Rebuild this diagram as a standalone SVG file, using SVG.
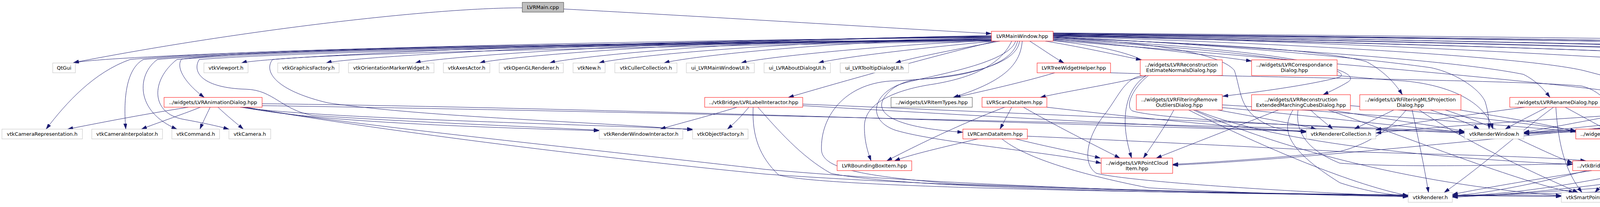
<svg xmlns="http://www.w3.org/2000/svg" width="5860" height="529" viewBox="0 0 5860 529">
<style>
.bg{fill:#fff}
.n rect{fill:#fff;stroke-width:1}
.g rect{stroke:#bfbfbf}
.r rect{stroke:#ff0000}
.k rect{stroke:#404040}
.m rect{fill:#bfbfbf;stroke:#404040}
.n text{font-family:"DejaVu Sans",Verdana,sans-serif;font-size:12.9px;text-anchor:middle;fill:#000}
.e path{fill:none;stroke:#191970;stroke-width:1;marker-end:url(#a)}
</style>
<defs>
<marker id="a" viewBox="0 0 14 9" refX="14" refY="4.5" markerWidth="14" markerHeight="9" markerUnits="userSpaceOnUse" orient="auto"><path d="M0,0L14,4.5L0,9z" fill="#191970" stroke="#191970" stroke-width="0.5"/></marker>
</defs>
<rect class="bg" x="0" y="0" width="5860" height="529"/>
<g id="edges" class="e">
<path d="M1443,23 C1800,42 2250,70 2538,86"/>
<path d="M1337,20 C1100,20 600,80 188,160"/>
<path d="M2538,96 C1400,104 260,140 188,161"/>
<path d="M2538,95 C1500,103 670,146 618,161"/>
<path d="M2538,94 C1600,102 890,146 835,161"/>
<path d="M2538,93 C1700,101 1115,146 1063,161"/>
<path d="M2538,92 C1800,100 1280,146 1228,161"/>
<path d="M2538,91 C1900,100 1460,146 1407,161"/>
<path d="M2538,97 C2000,104 1585,146 1533,161"/>
<path d="M2538,98 C2100,106 1752,146 1700,161"/>
<path d="M2540,104 C2300,112 1950,146 1897,161"/>
<path d="M2548,105 C2400,118 2150,146 2095,161"/>
<path d="M2560,105 C2480,120 2340,146 2292,161"/>
<path d="M2538,100 C1500,112 700,122 465,151 C450,170 470,210 523,249"/>
<path d="M2538,101 C1500,113 700,120 333,152 C240,185 170,262 118,330"/>
<path d="M2538,102 C1500,114 700,124 367,152 C320,178 316,262 322,330"/>
<path d="M2538,102 C1500,115 700,126 403,152 C350,190 345,285 453,330"/>
<path d="M2538,103 C1500,116 750,128 453,152 C385,205 385,290 470,305 C530,316 560,323 586,330"/>
<path d="M2538,103 C1600,117 800,130 510,152 C490,185 520,225 630,228 C700,230 720,280 800,295 C1100,315 1400,325 1534,333"/>
<path d="M2540,105 C1700,119 900,134 698,152 C675,180 700,230 840,263 C1100,300 1500,310 1773,332"/>
<path d="M2550,105 C2400,140 2150,210 2018,249"/>
<path d="M2617,105 C2612,160 2580,205 2440,249"/>
<path d="M2590,105 C2560,170 2480,200 2390,215 C2300,228 2215,260 2213,320 C2212,360 2222,390 2230,411"/>
<path d="M2600,105 C2580,170 2330,200 2293,220 C2230,250 2225,310 2293,333 C2400,365 2700,390 2819,417"/>
<path d="M2605,105 C2590,180 2420,200 2360,202 C2290,205 2255,250 2257,270 C2260,310 2350,330 2465,338"/>
<path d="M2610,105 C2600,190 2350,205 2280,207 C2160,215 2100,300 2103,383 C2105,430 2200,450 2450,470 C3000,490 3400,498 3605,501"/>
<path d="M2636,105 C2660,120 2700,148 2724,161"/>
<path d="M2676,105 C2780,122 2880,145 2922,153"/>
<path d="M2696,100 C2850,112 3050,135 3204,156"/>
<path d="M2696,104 C2900,125 2990,170 2930,195 C2850,215 2720,235 2663,249"/>
<path d="M2696,101 C3200,128 3470,170 3430,197 C3350,218 3220,235 3130,246"/>
<path d="M2696,99 C3300,125 3500,180 3450,210 C3430,222 3405,234 3387,242"/>
<path d="M2696,97 C2900,105 3120,130 3160,180 C3180,240 3170,290 3260,325 C3290,333 3320,336 3344,338"/>
<path d="M2696,96 C3000,110 3350,120 3497,157 C3540,180 3570,210 3590,242"/>
<path d="M2696,95 C3100,110 3500,150 3663,173 C3730,187 3790,230 3802,260 C3810,285 3812,310 3812,330"/>
<path d="M2696,94 C3200,120 3700,150 3900,190 C3930,205 3950,225 3968,249"/>
<path d="M2696,93 C3300,110 3900,145 4053,180 C4150,205 4220,225 4262,242"/>
<path d="M2696,92 C3500,110 4300,130 4493,152 C4530,165 4570,205 4598,242"/>
<path d="M2696,91 C3500,108 4400,135 4543,153 C4640,170 4740,212 4808,242"/>
<path d="M2696,90 C3600,110 4600,170 4900,205 C4950,215 4990,228 5023,242"/>
<path d="M2696,89 C3600,100 4800,125 4900,137 C5000,145 5120,152 5178,161"/>
<path d="M2696,88 C3700,100 5200,140 5300,147 C5350,150 5385,154 5410,161"/>
<path d="M2696,87 C3800,100 5450,120 5583,152 C5610,165 5600,195 5577,207 C5540,225 5500,238 5468,249"/>
<path d="M2696,86 C3800,98 5500,125 5607,152 C5630,175 5630,210 5627,242"/>
<path d="M2696,85 C3900,98 5600,120 5683,152 C5740,180 5760,230 5750,280 C5740,330 5700,370 5667,411"/>
<path d="M2696,86 C3900,99 5500,115 5637,152 C5680,165 5700,190 5720,230 C5740,270 5720,290 5623,310 C5500,325 5300,336 5191,338"/>
<path d="M2696,84 C4000,95 5600,110 5730,152 C5800,175 5853,220 5853,280 L5853,367 C5853,400 5820,425 5767,447 C5600,470 4700,480 4136,499"/>
<path d="M2696,90 C3800,108 4600,130 4900,150 C5100,165 5190,180 5220,237 C5235,270 5235,330 5200,358 C5100,375 4900,383 4700,395 C4500,405 4350,410 4261,416"/>
<path d="M2696,90 C3800,110 4600,132 4900,150 C5120,165 5225,185 5233,237 C5240,280 5240,330 5230,358 C5150,380 4950,400 4837,410"/>
<path d="M2696,103 C3300,150 3900,205 4100,230 C4160,250 4165,300 4153,330"/>
<path d="M2700,186 C2620,210 2520,232 2445,249"/>
<path d="M2843,186 C3300,200 3900,205 4050,220 C4110,235 4140,290 4142,330"/>
<path d="M3423,193 C3500,200 3560,205 3597,207 C3730,220 3805,270 3822,330"/>
<path d="M2935,193 C2890,220 2860,290 2897,404"/>
<path d="M2940,193 C2900,225 2880,270 2898,283 C2960,305 3400,325 3749,340"/>
<path d="M2925,193 C2880,200 2867,240 2830,290 C2780,350 2770,420 2807,443 C2900,465 3300,490 3605,502"/>
<path d="M3005,281 C2985,320 2950,370 2927,404"/>
<path d="M3043,281 C3200,360 3450,470 3605,500"/>
<path d="M3055,281 C3250,370 3600,470 3997,500"/>
<path d="M3117,281 C3250,305 3330,320 3370,330"/>
<path d="M3129,275 C3300,290 3600,325 3749,338"/>
<path d="M3129,268 C3500,290 3900,325 4034,336"/>
<path d="M3060,281 C3300,380 3800,410 4026,420"/>
<path d="M3273,281 C3150,330 3020,380 2960,404"/>
<path d="M3310,281 C3280,330 3290,380 3430,467 C3500,490 3560,498 3605,501"/>
<path d="M3323,281 C3315,340 3350,385 3430,417 C3600,430 3900,420 4026,419"/>
<path d="M3355,281 C3375,300 3395,315 3412,330"/>
<path d="M3407,281 C3550,305 3700,325 3749,336"/>
<path d="M3400,281 C3600,350 3900,470 4030,492"/>
<path d="M3457,270 C3700,290 3950,320 4034,334"/>
<path d="M3568,281 C3530,300 3490,318 3467,330"/>
<path d="M3600,281 C3560,330 3500,370 3430,387 C3250,405 3100,415 3002,420"/>
<path d="M3615,281 C3630,350 3645,420 3657,492"/>
<path d="M3633,281 C3750,360 3900,430 4040,492"/>
<path d="M3662,281 C3720,300 3760,315 3787,330"/>
<path d="M3737,281 C3850,300 3980,320 4034,338"/>
<path d="M3700,281 C3850,330 3950,390 4026,416"/>
<path d="M3903,274 C3750,295 3600,315 3522,332"/>
<path d="M3977,274 C3900,330 3800,420 3697,492"/>
<path d="M4007,274 L4110,330"/>
<path d="M3983,274 C3990,380 4010,440 4050,492"/>
<path d="M3960,274 C3920,295 3880,315 3853,330"/>
<path d="M4228,279 C4100,300 3980,325 3901,338"/>
<path d="M4287,281 C4250,300 4210,315 4183,330"/>
<path d="M4535,281 C4400,310 4300,325 4237,330"/>
<path d="M4592,281 C4450,350 4300,395 4210,411"/>
<path d="M4603,281 C4520,360 4440,430 4300,470 C4220,485 4170,495 4136,497"/>
<path d="M4513,275 C4300,300 4000,330 3901,340"/>
<path d="M4513,272 C4200,290 3700,320 3522,340"/>
<path d="M4520,281 C4000,340 3300,410 3002,422"/>
<path d="M4550,281 C4300,380 3900,490 3718,500"/>
<path d="M4912,281 C4960,300 5020,318 5047,330"/>
<path d="M4753,281 C4600,300 4350,325 4245,338"/>
<path d="M4782,281 C4600,350 4350,400 4193,411"/>
<path d="M4863,281 C4880,330 4880,420 4843,450 C4700,480 4400,490 4136,501"/>
<path d="M4749,278 C4500,300 4100,330 3901,341"/>
<path d="M4760,281 C4400,400 4000,495 3718,501"/>
<path d="M5090,281 L5088,330"/>
<path d="M5018,281 C4800,310 4500,325 4217,330"/>
<path d="M5048,281 C4970,320 4920,400 4900,430 C4800,470 4400,495 4136,502"/>
<path d="M4990,278 C4700,320 4400,390 4177,411"/>
<path d="M4995,281 C4600,420 4000,495 3718,503"/>
<path d="M4990,272 C4600,300 4100,330 3901,339"/>
<path d="M5525,281 C5450,288 5000,310 4900,318 C4600,325 4100,333 3901,342"/>
<path d="M5558,281 C5450,310 5300,340 5100,400 C4800,460 4200,495 3718,499"/>
<path d="M5540,435 C5400,445 4900,470 4136,500"/>
<path d="M4617,436 C4500,450 4300,480 4136,503"/>
<path d="M4580,436 C4300,470 3900,495 3718,504"/>
<path d="M4140,355 L4140,411"/>
<path d="M4132,436 L4083,492"/>
<path d="M4075,436 C3950,455 3800,480 3718,497"/>
<path d="M2503,355 C2420,375 2330,395 2290,411"/>
<path d="M2600,355 C2680,375 2760,390 2817,404"/>
<path d="M2565,355 C2620,400 2750,443 2940,480 C3200,495 3450,500 3605,503"/>
<path d="M2630,348 C2900,360 3300,380 3430,387 C3700,395 3950,400 4060,411"/>
<path d="M2590,274 L2560,330"/>
<path d="M2572,274 C2450,320 2330,380 2270,411"/>
<path d="M2620,274 C2700,320 2800,370 2867,404"/>
<path d="M2680,274 C2900,300 3200,330 3344,336"/>
<path d="M1887,274 C1820,295 1740,315 1690,330"/>
<path d="M1917,274 C1900,295 1880,315 1862,330"/>
<path d="M1928,274 C1925,350 1945,400 1993,447 C2100,480 3000,495 3997,502"/>
<path d="M1940,274 C1990,330 2050,400 2127,443 C2300,480 3000,495 3605,499"/>
<path d="M2055,270 C2400,290 3000,325 3344,335"/>
<path d="M2055,266 C2500,285 3300,320 3749,336"/>
<path d="M482,274 C350,295 250,315 173,330"/>
<path d="M513,274 C460,295 400,315 362,330"/>
<path d="M538,274 C528,295 518,315 512,330"/>
<path d="M558,274 C580,295 605,315 623,330"/>
<path d="M620,274 C800,310 1200,325 1534,334"/>
<path d="M615,274 C800,300 1300,312 1773,330"/>
<path d="M625,274 C900,320 1500,380 1960,433 C2500,480 3200,497 3605,500"/>
<path d="M630,274 C950,330 1500,400 1960,445 C2600,490 3500,500 3997,500"/>
<path d="M671,265 C1500,275 2800,320 3344,336"/>
<path d="M671,270 C1500,282 3000,320 3749,338"/>
<path d="M5268,186 C5310,210 5350,230 5387,249"/>
<path d="M5465,186 C5450,210 5432,232 5418,249"/>
</g>
<g id="LVRMain_cpp" class="n m"><rect x="1337" y="6" width="106" height="25"/><text x="1390" y="23">LVRMain.cpp</text></g>
<g id="LVRMainWindow_hpp" class="n r"><rect x="2538" y="80" width="158" height="25"/><text x="2617" y="97">LVRMainWindow.hpp</text></g>
<g id="QtGui" class="n g"><rect x="135" y="161" width="58" height="25"/><text x="164" y="178">QtGui</text></g>
<g id="vtkViewport_h" class="n g"><rect x="522" y="161" width="113" height="25"/><text x="578.5" y="178">vtkViewport.h</text></g>
<g id="vtkGraphicsFactory_h" class="n g"><rect x="711" y="161" width="157" height="25"/><text x="789.5" y="178">vtkGraphicsFactory.h</text></g>
<g id="vtkOrientationMarkerWidget_h" class="n g"><rect x="892" y="161" width="219" height="25"/><text x="1001.5" y="178">vtkOrientationMarkerWidget.h</text></g>
<g id="vtkAxesActor_h" class="n g"><rect x="1135" y="161" width="119" height="25"/><text x="1194.5" y="178">vtkAxesActor.h</text></g>
<g id="vtkOpenGLRenderer_h" class="n g"><rect x="1278" y="161" width="164" height="25"/><text x="1360" y="178">vtkOpenGLRenderer.h</text></g>
<g id="vtkNew_h" class="n g"><rect x="1467" y="161" width="82" height="25"/><text x="1508" y="178">vtkNew.h</text></g>
<g id="vtkCullerCollection_h" class="n g"><rect x="1574" y="161" width="159" height="25"/><text x="1653.5" y="178">vtkCullerCollection.h</text></g>
<g id="ui_LVRMainWindowUI_h" class="n g"><rect x="1757" y="161" width="174" height="25"/><text x="1844" y="178">ui_LVRMainWindowUI.h</text></g>
<g id="ui_LVRAboutDialogUI_h" class="n g"><rect x="1956" y="161" width="170" height="25"/><text x="2041" y="178">ui_LVRAboutDialogUI.h</text></g>
<g id="ui_LVRTooltipDialogUI_h" class="n g"><rect x="2151" y="161" width="175" height="25"/><text x="2238.5" y="178">ui_LVRTooltipDialogUI.h</text></g>
<g id="LVRTreeWidgetHelper_hpp" class="n r"><rect x="2655" y="161" width="188" height="25"/><text x="2749" y="178">LVRTreeWidgetHelper.hpp</text></g>
<g id="LVRReconstructionEstimateNormalsDialog_hpp" class="n r"><rect x="2919" y="153" width="210" height="40"/><text x="3024" y="170">../widgets/LVRReconstruction</text><text x="3024" y="184">EstimateNormalsDialog.hpp</text></g>
<g id="LVRCorrespondanceDialog_hpp" class="n r"><rect x="3204" y="153" width="219" height="40"/><text x="3313.5" y="170">../widgets/LVRCorrespondance</text><text x="3313.5" y="184">Dialog.hpp</text></g>
<g id="LVRHistogram_hpp" class="n r"><rect x="5142" y="161" width="209" height="25"/><text x="5246.5" y="178">../widgets/LVRHistogram.hpp</text></g>
<g id="LVRPointInfo_hpp" class="n r"><rect x="5375" y="161" width="199" height="25"/><text x="5474.5" y="178">../widgets/LVRPointInfo.hpp</text></g>
<g id="LVRAnimationDialog_hpp" class="n r"><rect x="420" y="249" width="251" height="25"/><text x="545.5" y="266">../widgets/LVRAnimationDialog.hpp</text></g>
<g id="LVRLabelInteractor_hpp" class="n r"><rect x="1804" y="249" width="251" height="25"/><text x="1929.5" y="266">../vtkBridge/LVRLabelInteractor.hpp</text></g>
<g id="LVRItemTypes_hpp" class="n k"><rect x="2281" y="249" width="208" height="25"/><text x="2385" y="266">../widgets/LVRItemTypes.hpp</text></g>
<g id="LVRScanDataItem_hpp" class="n r"><rect x="2514" y="249" width="166" height="25"/><text x="2597" y="266">LVRScanDataItem.hpp</text></g>
<g id="LVRFilteringRemoveOutliersDialog_hpp" class="n r"><rect x="2909" y="242" width="220" height="39"/><text x="3019" y="259">../widgets/LVRFilteringRemove</text><text x="3019" y="273">OutliersDialog.hpp</text></g>
<g id="LVRReconstructionExtendedMarchingCubesDialog_hpp" class="n r"><rect x="3204" y="242" width="253" height="39"/><text x="3330.5" y="259">../widgets/LVRReconstruction</text><text x="3330.5" y="273">ExtendedMarchingCubesDialog.hpp</text></g>
<g id="LVRFilteringMLSProjectionDialog_hpp" class="n r"><rect x="3481" y="242" width="259" height="39"/><text x="3610.5" y="259">../widgets/LVRFilteringMLSProjection</text><text x="3610.5" y="273">Dialog.hpp</text></g>
<g id="LVRRenameDialog_hpp" class="n r"><rect x="3865" y="249" width="238" height="25"/><text x="3984" y="266">../widgets/LVRRenameDialog.hpp</text></g>
<g id="LVRTransformationDialog_hpp" class="n r"><rect x="4228" y="242" width="211" height="39"/><text x="4333.5" y="259">../widgets/LVRTransformation</text><text x="4333.5" y="273">Dialog.hpp</text></g>
<g id="LVRReconstructionMarchingCubesDialog_hpp" class="n r"><rect x="4513" y="242" width="211" height="39"/><text x="4618.5" y="259">../widgets/LVRReconstruction</text><text x="4618.5" y="273">MarchingCubesDialog.hpp</text></g>
<g id="LVROptimizationPlanarOptimizationDialog_hpp" class="n r"><rect x="4749" y="242" width="217" height="39"/><text x="4857.5" y="259">../widgets/LVROptimization</text><text x="4857.5" y="273">PlanarOptimizationDialog.hpp</text></g>
<g id="LVROptimizationRemoveArtifactsDialog_hpp" class="n r"><rect x="4990" y="242" width="201" height="39"/><text x="5090.5" y="259">../widgets/LVROptimization</text><text x="5090.5" y="273">RemoveArtifactsDialog.hpp</text></g>
<g id="LVRPlotter_hpp" class="n r"><rect x="5318" y="249" width="183" height="25"/><text x="5409.5" y="266">../widgets/LVRPlotter.hpp</text></g>
<g id="LVRBackgroundDialog_hpp" class="n r"><rect x="5525" y="242" width="190" height="39"/><text x="5620" y="259">../widgets/LVRBackground</text><text x="5620" y="273">Dialog.hpp</text></g>
<g id="vtkCameraRepresentation_h" class="n g"><rect x="5" y="330" width="206" height="25"/><text x="108" y="347">vtkCameraRepresentation.h</text></g>
<g id="vtkCameraInterpolator_h" class="n g"><rect x="235" y="330" width="181" height="25"/><text x="325.5" y="347">vtkCameraInterpolator.h</text></g>
<g id="vtkCommand_h" class="n g"><rect x="440" y="330" width="122" height="25"/><text x="501" y="347">vtkCommand.h</text></g>
<g id="vtkCamera_h" class="n g"><rect x="586" y="330" width="107" height="25"/><text x="639.5" y="347">vtkCamera.h</text></g>
<g id="vtkRenderWindowInteractor_h" class="n g"><rect x="1534" y="330" width="214" height="25"/><text x="1641" y="347">vtkRenderWindowInteractor.h</text></g>
<g id="vtkObjectFactory_h" class="n g"><rect x="1773" y="330" width="142" height="25"/><text x="1844" y="347">vtkObjectFactory.h</text></g>
<g id="LVRCamDataItem_hpp" class="n r"><rect x="2465" y="330" width="165" height="25"/><text x="2547.5" y="347">LVRCamDataItem.hpp</text></g>
<g id="vtkRendererCollection_h" class="n g"><rect x="3344" y="330" width="178" height="25"/><text x="3433" y="347">vtkRendererCollection.h</text></g>
<g id="vtkRenderWindow_h" class="n g"><rect x="3749" y="330" width="152" height="25"/><text x="3825" y="347">vtkRenderWindow.h</text></g>
<g id="LVRModelItem_hpp" class="n r"><rect x="4034" y="330" width="211" height="25"/><text x="4139.5" y="347">../widgets/LVRModelItem.hpp</text></g>
<g id="LVRMeshItem_hpp" class="n r"><rect x="4985" y="330" width="206" height="25"/><text x="5088" y="347">../widgets/LVRMeshItem.hpp</text></g>
<g id="LVRBoundingBoxItem_hpp" class="n r"><rect x="2143" y="411" width="191" height="25"/><text x="2238.5" y="428">LVRBoundingBoxItem.hpp</text></g>
<g id="LVRPointCloudItem_hpp" class="n r"><rect x="2819" y="404" width="183" height="39"/><text x="2910.5" y="421">../widgets/LVRPointCloud</text><text x="2910.5" y="435">Item.hpp</text></g>
<g id="LVRModelBridge_hpp" class="n r"><rect x="4026" y="411" width="235" height="25"/><text x="4143.5" y="428">../vtkBridge/LVRModelBridge.hpp</text></g>
<g id="LVRPickingInteractor_hpp" class="n r"><rect x="4574" y="411" width="263" height="25"/><text x="4705.5" y="428">../vtkBridge/LVRPickingInteractor.hpp</text></g>
<g id="LVRLabelDialog_hpp" class="n r"><rect x="5540" y="411" width="219" height="25"/><text x="5649.5" y="428">../widgets/LVRLabelDialog.hpp</text></g>
<g id="vtkRenderer_h" class="n g"><rect x="3605" y="492" width="113" height="25"/><text x="3661.5" y="509">vtkRenderer.h</text></g>
<g id="vtkSmartPointer_h" class="n g"><rect x="3997" y="492" width="139" height="25"/><text x="4066.5" y="509">vtkSmartPointer.h</text></g>
</svg>
